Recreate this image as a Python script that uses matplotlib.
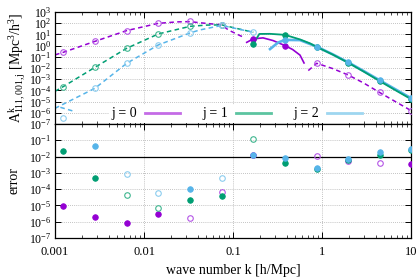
import numpy as np
import matplotlib
matplotlib.use('Agg')
import matplotlib.pyplot as plt
from matplotlib.lines import Line2D
from matplotlib.ticker import LogLocator, NullFormatter, LogFormatterMathtext, FixedLocator

plt.rcParams['font.family'] = ['Liberation Serif', 'DejaVu Serif']
plt.rcParams['mathtext.fontset'] = 'custom'
plt.rcParams['mathtext.rm'] = 'Liberation Serif'
plt.rcParams['mathtext.it'] = 'Liberation Serif:italic'
plt.rcParams['mathtext.bf'] = 'Liberation Serif:bold'

# ---------------- data (log10 values) ----------------
k_pts = [0.00124, 0.0028, 0.0064, 0.0144, 0.033, 0.0746, 0.167, 0.38, 0.87, 1.98, 4.5, 10.0]

# top panel curves: (log10 k, log10 A)
j0_dash_lo_lk = [-3.0, -2.907, -2.551, -2.194, -1.839, -1.62, -1.483, -1.371, -1.258, -1.127, -1.053, -0.921, -0.888]
j0_dash_lo_lA = [-0.83, -0.60, 0.38, 1.34, 1.99, 2.12, 2.14, 2.04, 1.95, 1.85, 1.40, 0.89, 0.78]
j0_solid_lk = [-0.846, -0.772, -0.663, -0.55, -0.416, -0.33, -0.247, -0.202]
j0_solid_lA = [0.29, 0.60, 0.69, 0.45, 0.0, -0.35, -0.85, -1.55]
j0_dash_hi_lk = [-0.154, -0.060, 0.12, 0.296, 0.47, 0.644, 0.82, 1.0]
j0_dash_hi_lA = [-2.23, -1.58, -2.05, -2.63, -3.35, -4.17, -4.98, -5.80]

j1_dash_lk = [-3.0, -2.907, -2.551, -2.194, -1.839, -1.483, -1.30, -1.127, -0.888, -0.772]
j1_dash_lA = [-4.08, -3.66, -1.94, -0.24, 1.04, 1.72, 1.83, 1.85, 1.40, 1.19]
j1_solid_lk = [-0.772, -0.704, -0.584, -0.416, -0.247, -0.135, -0.060, 0.12, 0.296, 0.47, 0.644, 0.82, 1.0]
j1_solid_lA = [0.15, 1.04, 1.05, 0.96, 0.55, 0.20, -0.12, -0.80, -1.54, -2.33, -3.15, -3.96, -4.78]

j2_dash_lk = [-3.0, -2.551, -2.194, -1.839, -1.483, -1.371, -1.127, -0.772]
j2_dash_lA = [-5.60, -3.81, -1.58, 0.06, 1.13, 1.40, 1.80, 1.19]
j2_dash_extra_lk = [-2.94, -2.794]
j2_dash_extra_lA = [-5.51, -5.85]
j2_solid_lk = [-0.584, -0.494, -0.416, -0.247, -0.060, 0.12, 0.296, 0.47, 0.644, 0.82, 1.0]
j2_solid_lA = [-0.31, 0.27, 0.51, 0.49, -0.09, -0.78, -1.50, -2.28, -3.08, -3.88, -4.69]

# top panel markers at k_pts (log10 A); None = no marker
j0_open_lA = [-0.60, 0.38, 1.34, 1.99, 2.17, 1.85, None, None, -1.58, -2.63, -4.17, -5.80]
j0_fill_lA = [None, None, None, None, None, None, 0.60, 0.0, None, None, None, None]
j1_open_lA = [-3.66, -1.94, -0.24, 1.04, 1.72, 1.85, None, None, None, None, None, None]
j1_fill_lA = [None, None, None, None, None, None, 0.15, 0.96, -0.12, -1.54, -3.15, -4.78]
j2_open_lA = [-6.46, -3.81, -1.58, 0.06, 1.13, 1.80, 1.19, None, None, None, None, None]
j2_fill_lA = [None, None, None, None, None, None, None, 0.51, -0.09, -1.50, -3.08, -4.69]

# bottom panel errors (log10), and filled flags
j0_err = [-5.01, -5.69, -6.06, -5.52, -5.79, -4.17, -1.92, None, -1.96, -2.29, -2.41, -2.44]
j0_fill = [1, 1, 1, 1, 0, 0, 1, 1, 0, 0, 0, 1]
j1_err = [-1.64, -3.29, -4.37, -5.15, -4.68, -4.44, -0.92, -2.37, -2.76, -2.23, -1.88, -1.60]
j1_fill = [1, 1, 0, 0, 1, 1, 0, 1, 1, 1, 1, 1]
j2_err = [None, -1.33, -3.09, -4.25, -3.99, -3.29, -1.92, -2.11, -2.68, -2.13, -1.74, -1.52]
j2_fill = [1, 1, 0, 0, 1, 0, 1, 1, 1, 1, 1, 1]

error_ref = 1e-2
legend_labels = ['j = 0', 'j = 1', 'j = 2']

# ---------------- styles ----------------
C = ['#9400d3', '#009e73', '#56b4e9']
C_open = ['#b455e6', '#3fb68f', '#8ccdef']
C_leg = ['#c46be6', '#5cc4a0', '#9ed6f0']

p = lambda a: np.power(10.0, np.asarray(a, dtype=float))

fig = plt.figure(figsize=(4.2, 2.8), dpi=100)
ax1 = fig.add_axes([55/420, 1-124/280, 356/420, 112/280])
ax2 = fig.add_axes([55/420, 1-238/280, 356/420, 114/280])

dash = (0, (3.0, 2.2))
lw = 1.1
# dashed (low k)
ax1.plot(p(j0_dash_lo_lk), p(j0_dash_lo_lA), color=C[0], lw=lw, ls=dash)
ax1.plot(p(j1_dash_lk), p(j1_dash_lA), color=C[1], lw=lw, ls=dash)
ax1.plot(p(j2_dash_lk), p(j2_dash_lA), color=C[2], lw=lw, ls=dash)
ax1.plot(p(j2_dash_extra_lk), p(j2_dash_extra_lA), color=C[2], lw=lw, ls=dash)
ax1.plot(p(j0_dash_hi_lk), p(j0_dash_hi_lA), color=C[0], lw=lw, ls=dash)
# solid (high k)
ax1.plot(p(j0_solid_lk), p(j0_solid_lA), color=C[0], lw=1.2)
ax1.plot(p(j2_solid_lk), p(j2_solid_lA), color=C[2], lw=1.9)
ax1.plot(p(j1_solid_lk), p(j1_solid_lA), color=C[1], lw=1.3)

def markers(ax, vals, color, filled, ms=4.0):
    ks = [k for k, v in zip(k_pts, vals) if v is not None]
    vs = [v for v in vals if v is not None]
    if not ks:
        return
    if filled:
        ax.plot(ks, p(vs), 'o', ms=ms, mfc=color, mec=color, mew=0.6, ls='none', zorder=4)
    else:
        ax.plot(ks, p(vs), 'o', ms=ms, mfc='none', mec=color, mew=0.8, ls='none', zorder=4)

for i, (o, f) in enumerate([(j0_open_lA, j0_fill_lA), (j1_open_lA, j1_fill_lA), (j2_open_lA, j2_fill_lA)]):
    markers(ax1, o, C_open[i], False)
    markers(ax1, f, C[i], True)

for i, (err, fl) in enumerate([(j0_err, j0_fill), (j1_err, j1_fill), (j2_err, j2_fill)]):
    markers(ax2, [e if (e is not None and f) else None for e, f in zip(err, fl)], C[i], True)
    markers(ax2, [e if (e is not None and not f) else None for e, f in zip(err, fl)], C_open[i], False)

ax2.axhline(error_ref, color='black', lw=0.9, zorder=3)

# axes
for ax in (ax1, ax2):
    ax.set_xscale('log')
    ax.set_yscale('log')
    ax.set_xlim(1e-3, 10)
    ax.grid(True, which='major', ls=(0, (1, 1.5)), color='#b0b0b0', lw=0.6)
    ax.tick_params(which='both', direction='in', top=True, right=True, labelsize=9, pad=3)
    ax.tick_params(axis='y', labelsize=8.5, pad=2.5)
    ax.tick_params(which='major', length=4, width=0.7)
    ax.tick_params(which='minor', length=2, width=0.5)
    ax.xaxis.set_minor_locator(LogLocator(base=10, subs=np.arange(2, 10)))
    ax.xaxis.set_minor_formatter(NullFormatter())
    ax.yaxis.set_minor_locator(LogLocator(base=10, subs=[2, 5]))
    ax.yaxis.set_minor_formatter(NullFormatter())
    for s in ax.spines.values():
        s.set_linewidth(0.9)

ax1.set_ylim(1e-7, 1e3)
ax1.yaxis.set_major_locator(FixedLocator([10.0**e for e in range(-7, 4)]))
ax1.yaxis.set_major_formatter(LogFormatterMathtext())
ax1.tick_params(axis='x', labelbottom=False)

ax2.set_ylim(1e-7, 1e0)
ax2.yaxis.set_major_locator(FixedLocator([10.0**e for e in range(-7, 0)]))
ax2.yaxis.set_major_formatter(LogFormatterMathtext())
ax2.xaxis.set_major_locator(FixedLocator([1e-3, 1e-2, 1e-1, 1, 10]))
ax2.set_xticklabels(['0.001', '0.01', '0.1', '1', '10'])
ax2.tick_params(axis='x', pad=6)

ax1.set_ylabel(r'$\mathrm{A}^{\mathrm{k}}_{\mathrm{111,001,j}}$ [Mpc$^3$/h$^3$]', fontsize=10)
ax1.yaxis.set_label_coords(-0.075, 0.5)
ax2.set_ylabel('error', fontsize=10)
ax2.yaxis.set_label_coords(-0.098, 0.5)
ax2.set_xlabel('wave number k [h/Mpc]', fontsize=10, labelpad=4)

handles = [Line2D([], [], color=C_leg[i], lw=2.0) for i in range(3)]
leg = ax1.legend(handles, legend_labels, ncol=3, markerfirst=False, loc='center',
                 bbox_to_anchor=(0.51, 0.09), fontsize=10, frameon=True,
                 handlelength=2.5, handletextpad=0.6, columnspacing=1.6,
                 borderpad=0.15, borderaxespad=0.0, fancybox=False)
leg.get_frame().set_facecolor('white')
leg.get_frame().set_edgecolor('none')
leg.get_frame().set_alpha(1.0)
leg.set_zorder(5)

fig.savefig('out.png', dpi=100)
